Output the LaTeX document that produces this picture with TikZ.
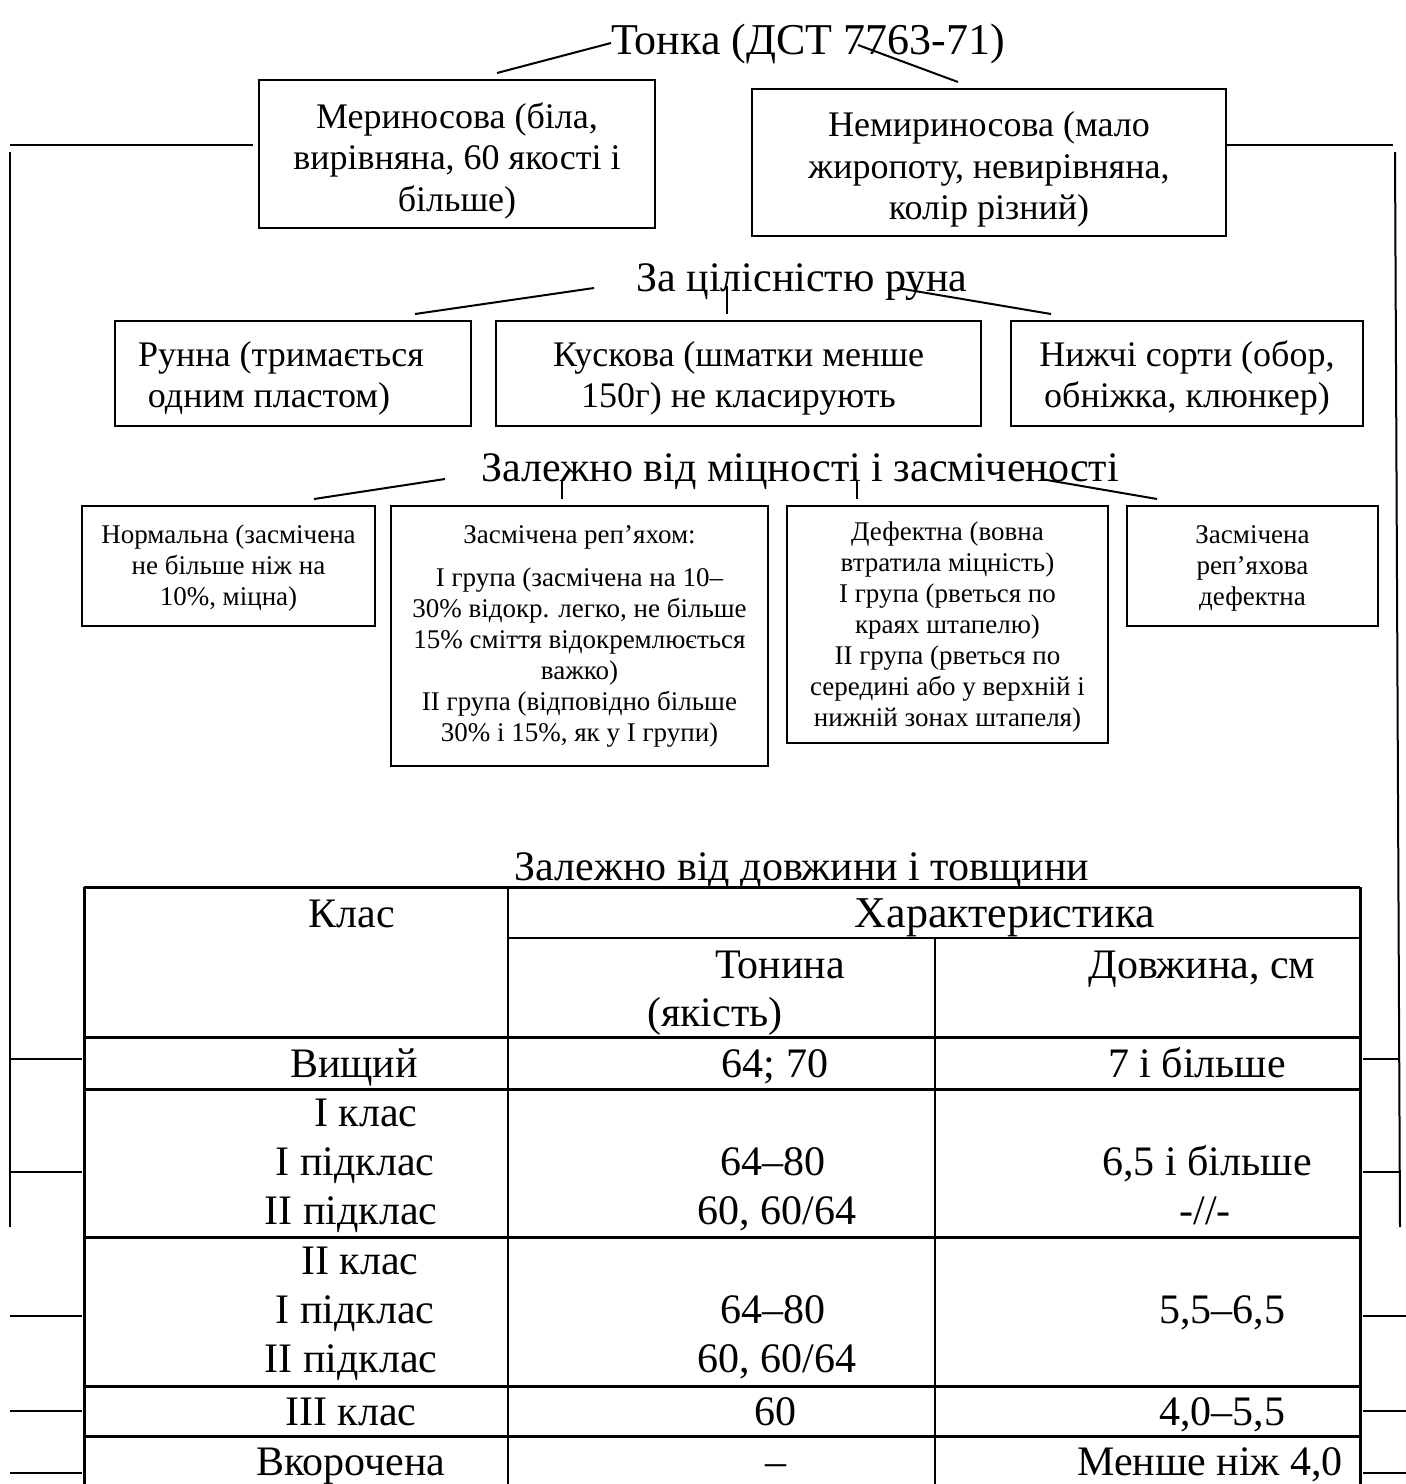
\documentclass[tikz,border=0pt]{standalone}
\usepackage{fontspec}
\setmainfont{Liberation Serif}
\newcommand\mystrut[1]{\rule{0pt}{#1}}
\begin{document}
\begin{tikzpicture}[x=1pt,y=-1pt,
  bx/.style={draw, line width=2pt, inner sep=0pt, align=center},
  big/.style={font=\fontsize{42}{48.3}\selectfont, inner sep=0pt},
  mid/.style={font=\fontsize{36}{41.4}\selectfont},
  sml/.style={font=\fontsize{27}{31}\selectfont},
  tt/.style={font=\fontsize{42}{48.3}\selectfont, inner sep=0pt, anchor=base},
  conn/.style={line width=2pt},
  frame/.style={line width=2pt},
  trow/.style={line width=3pt},
  tcol/.style={line width=1.6pt}]
\useasboundingbox (0,0) rectangle (1406,1484);

% ---------- level 1 ----------
\node[anchor=base, inner sep=0pt, font=\fontsize{44}{50}\selectfont] (t1) at (808,54) {Тонка (ДСТ 7763-71)};
\node[bx, mid, minimum width=396pt, minimum height=148pt] (mer) at (457,154)
  {\mystrut{39pt}Мериносова (біла,\\вирівняна, 60 якості і\\більше)};
\node[bx, mid, minimum width=474pt, minimum height=147pt] (nemer) at (989,162.5)
  {\mystrut{39pt}Немириносова (мало\\жиропоту, невирівняна,\\колір різний)};
\coordinate (a1) at (611,43); \coordinate (a2) at (497,73);
\coordinate (b1) at (858,45); \coordinate (b2) at (958,82);
\draw[conn] (a1) -- (a2);
\draw[conn] (b1) -- (b2);

% ---------- frame ----------
\coordinate (lh1) at (10,145); \coordinate (lh2) at (253,145);
\coordinate (lv1) at (10,152); \coordinate (lv2) at (10,1227);
\coordinate (rh1) at (1226,145); \coordinate (rh2) at (1393,145);
\coordinate (rv1) at (1395,152); \coordinate (rv2) at (1400,1227);
\draw[frame] (lh1) -- (lh2);
\draw[frame] (lv1) -- (lv2);
\draw[frame] (rh1) -- (rh2);
\draw[frame] (rv1) -- (rv2);

% ---------- level 2 ----------
\node[big, anchor=base] (t2) at (802,291) {За цілісністю руна};
\node[bx, mid, minimum width=356pt, minimum height=105pt] (runna) at (293,373.5)
  {\mystrut{35pt}Рунна (тримається\hspace*{24pt}\\одним пластом)\hspace*{48pt}};
\node[bx, mid, minimum width=485pt, minimum height=105pt] (kusk) at (738.5,373.5)
  {\mystrut{35pt}Кускова (шматки менше\\150г) не класирують};
\node[bx, mid, minimum width=352pt, minimum height=105pt] (nyzh) at (1187,373.5)
  {\mystrut{35pt}Нижчі сорти (обор,\\обніжка, клюнкер)};
\coordinate (c1) at (594,288); \coordinate (c2) at (415,314);
\coordinate (c3) at (727,286); \coordinate (c4) at (727,314);
\coordinate (c5) at (897,288); \coordinate (c6) at (1051,314);
\draw[conn] (c1) -- (c2);
\draw[line width=1.2pt] (c3) -- (c4);
\draw[conn] (c5) -- (c6);

% ---------- level 3 ----------
\node[big, anchor=base] (t3) at (800,481) {Залежно від міцності і засміченості};
\node[bx, sml, minimum width=293pt, minimum height=120pt] (norm) at (228.5,566)
  {\mystrut{23pt}Нормальна (засмічена\\не більше ніж на\\10\%, міцна)};
\node[bx, sml, minimum width=377pt, minimum height=260pt] (zasm) at (579.5,636)
  {Засмічена реп’яхом:\\[12pt]І група (засмічена на 10–\\30\% відокр. легко, не більше\\15\% сміття відокремлюється\\важко)\\ІІ група (відповідно більше\\30\% і 15\%, як у І групи)};
\node[bx, sml, minimum width=321pt, minimum height=237pt] (def) at (947.5,624.5)
  {\mystrut{24pt}Дефектна (вовна\\втратила міцність)\\І група (рветься по\\краях штапелю)\\ІІ група (рветься по\\середині або у верхній і\\нижній зонах штапеля)};
\node[bx, sml, minimum width=251pt, minimum height=120pt] (zdef) at (1252.5,566)
  {\mystrut{23pt}Засмічена\\реп’яхова\\дефектна};
\coordinate (d1) at (445,479); \coordinate (d2) at (314,499);
\coordinate (d3) at (562,481); \coordinate (d4) at (562,499);
\coordinate (d5) at (857,481); \coordinate (d6) at (857,499);
\coordinate (d7) at (1041,479); \coordinate (d8) at (1157,499);
\draw[conn] (d1) -- (d2);
\draw[line width=1.2pt] (d3) -- (d4);
\draw[line width=1.2pt] (d5) -- (d6);
\draw[conn] (d7) -- (d8);

% ---------- table ----------
\node[big, anchor=base] (t4) at (802,880) {Залежно від довжини і товщини};
\coordinate (TL) at (84,887); \coordinate (TR) at (1360,887);
\coordinate (BL) at (84,1484); \coordinate (BR) at (1360,1484);
\draw[trow] (TL) -- (TR);
\draw[trow] (TL) -- (BL);
\draw[trow] (TR) -- (BR);
\draw[tcol] (508,887) -- (508,1484);
\draw[tcol] (935,938) -- (935,1484);
\draw[tcol] (508,938) -- (1360,938);
\foreach \yy in {1037,1089,1237,1386,1436} \draw[trow] (84,\yy) -- (1360,\yy);

\node[tt] (hk) at (352,927) {Клас};
\node[tt, font=\fontsize{44}{50}\selectfont] (hch) at (1005,927) {Характеристика};
\node[tt] (hton) at (780,978) {Тонина};
\node[tt] (hyak) at (715,1026) {(якість)};
\node[tt] (hdov) at (1202,978) {Довжина, см};

\node[tt] (r1a) at (354,1077) {Вищий};
\node[tt] (r1b) at (775,1077) {64; 70};
\node[tt] (r1c) at (1197,1077) {7 і більше};

\node[tt] (r2a) at (366,1126) {І клас};
\node[tt] (r2b) at (355,1175) {І підклас};
\node[tt] (r2c) at (351,1224) {ІІ підклас};
\node[tt] (r2d) at (773,1175) {64–80};
\node[tt] (r2e) at (777,1224) {60, 60/64};
\node[tt] (r2f) at (1207,1175) {6,5 і більше};
\node[tt] (r2g) at (1205,1224) {-//-};

\node[tt] (r3a) at (360,1274) {ІІ клас};
\node[tt] (r3b) at (355,1323) {І підклас};
\node[tt] (r3c) at (351,1372) {ІІ підклас};
\node[tt] (r3d) at (773,1323) {64–80};
\node[tt] (r3e) at (777,1372) {60, 60/64};
\node[tt] (r3f) at (1222,1323) {5,5–6,5};

\node[tt] (r4a) at (351,1425) {ІІІ клас};
\node[tt] (r4b) at (775,1425) {60};
\node[tt] (r4c) at (1222,1425) {4,0–5,5};

\node[tt] (r5a) at (351,1475) {Вкорочена};
\node[tt] (r5b) at (776,1475) {–};
\node[tt] (r5c) at (1210,1475) {Менше ніж 4,0};

% ---------- stubs ----------
\foreach \yy/\n in {1059/1,1172/2} {
  \coordinate (sl\n a) at (10,\yy); \coordinate (sl\n b) at (82,\yy);
  \coordinate (sr\n a) at (1363,\yy); \coordinate (sr\n b) at (1400,\yy);
  \draw[frame] (sl\n a) -- (sl\n b);
  \draw[frame] (sr\n a) -- (sr\n b);
}
\foreach \yy/\n in {1316/3,1411/4,1473/5} {
  \coordinate (sl\n a) at (10,\yy); \coordinate (sl\n b) at (82,\yy);
  \coordinate (sr\n a) at (1363,\yy); \coordinate (sr\n b) at (1406,\yy);
  \draw[frame] (sl\n a) -- (sl\n b);
  \draw[frame] (sr\n a) -- (sr\n b);
}
\end{tikzpicture}
\end{document}
